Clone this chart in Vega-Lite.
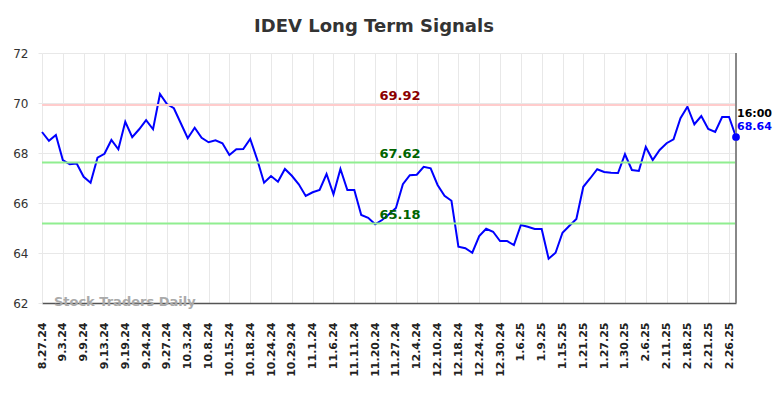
{
  "$schema": "https://vega.github.io/schema/vega-lite/v6.json",
  "width": 694,
  "height": 250,
  "autosize": "none",
  "padding": {"left": 42, "top": 53, "right": 48, "bottom": 95},
  "background": "white",
  "title": {"text": "IDEV Long Term Signals", "fontSize": 18, "font": "DejaVu Sans", "fontWeight": "bold", "color": "#333333", "anchor": "middle", "dx": -15, "offset": 11},
  "config": {"view": {"stroke": null}, "font": "DejaVu Sans"},
  "datasets": {
    "prices": [
      {"date": "8.27.24", "close": 68.84}, {"date": "8.28.24", "close": 68.49}, {"date": "8.30.24", "close": 68.72},
      {"date": "9.3.24", "close": 67.72}, {"date": "9.4.24", "close": 67.55}, {"date": "9.6.24", "close": 67.58},
      {"date": "9.9.24", "close": 67.05}, {"date": "9.10.24", "close": 66.81}, {"date": "9.12.24", "close": 67.81},
      {"date": "9.13.24", "close": 67.97}, {"date": "9.16.24", "close": 68.52}, {"date": "9.17.24", "close": 68.15},
      {"date": "9.19.24", "close": 69.25}, {"date": "9.20.24", "close": 68.63}, {"date": "9.23.24", "close": 68.95},
      {"date": "9.24.24", "close": 69.31}, {"date": "9.25.24", "close": 68.95}, {"date": "9.26.24", "close": 70.36},
      {"date": "9.27.24", "close": 69.96}, {"date": "9.30.24", "close": 69.79}, {"date": "10.1.24", "close": 69.19},
      {"date": "10.3.24", "close": 68.59}, {"date": "10.4.24", "close": 69.01}, {"date": "10.7.24", "close": 68.61},
      {"date": "10.8.24", "close": 68.43}, {"date": "10.10.24", "close": 68.51}, {"date": "10.11.24", "close": 68.39},
      {"date": "10.15.24", "close": 67.92}, {"date": "10.16.24", "close": 68.15}, {"date": "10.17.24", "close": 68.16},
      {"date": "10.18.24", "close": 68.56}, {"date": "10.21.24", "close": 67.75}, {"date": "10.23.24", "close": 66.81},
      {"date": "10.24.24", "close": 67.08}, {"date": "10.25.24", "close": 66.85}, {"date": "10.28.24", "close": 67.36},
      {"date": "10.29.24", "close": 67.09}, {"date": "10.30.24", "close": 66.75}, {"date": "10.31.24", "close": 66.28},
      {"date": "11.1.24", "close": 66.43}, {"date": "11.4.24", "close": 66.52}, {"date": "11.5.24", "close": 67.16},
      {"date": "11.6.24", "close": 66.35}, {"date": "11.7.24", "close": 67.36}, {"date": "11.8.24", "close": 66.52},
      {"date": "11.11.24", "close": 66.52}, {"date": "11.14.24", "close": 65.52}, {"date": "11.18.24", "close": 65.41},
      {"date": "11.20.24", "close": 65.15}, {"date": "11.22.24", "close": 65.32}, {"date": "11.26.24", "close": 65.55},
      {"date": "11.27.24", "close": 65.80}, {"date": "11.29.24", "close": 66.75}, {"date": "12.2.24", "close": 67.11},
      {"date": "12.4.24", "close": 67.13}, {"date": "12.5.24", "close": 67.45}, {"date": "12.9.24", "close": 67.39},
      {"date": "12.10.24", "close": 66.72}, {"date": "12.12.24", "close": 66.29}, {"date": "12.16.24", "close": 66.09},
      {"date": "12.18.24", "close": 64.25}, {"date": "12.19.24", "close": 64.19}, {"date": "12.23.24", "close": 64.01},
      {"date": "12.24.24", "close": 64.68}, {"date": "12.26.24", "close": 64.97}, {"date": "12.27.24", "close": 64.85},
      {"date": "12.30.24", "close": 64.48}, {"date": "1.2.25", "close": 64.48}, {"date": "1.3.25", "close": 64.32},
      {"date": "1.6.25", "close": 65.12}, {"date": "1.7.25", "close": 65.05}, {"date": "1.8.25", "close": 64.96},
      {"date": "1.9.25", "close": 64.96}, {"date": "1.13.25", "close": 63.77}, {"date": "1.14.25", "close": 64.01},
      {"date": "1.15.25", "close": 64.81}, {"date": "1.16.25", "close": 65.09}, {"date": "1.17.25", "close": 65.36},
      {"date": "1.21.25", "close": 66.65}, {"date": "1.23.25", "close": 66.99}, {"date": "1.24.25", "close": 67.35},
      {"date": "1.27.25", "close": 67.24}, {"date": "1.28.25", "close": 67.21}, {"date": "1.29.25", "close": 67.20},
      {"date": "1.30.25", "close": 67.95}, {"date": "2.3.25", "close": 67.32}, {"date": "2.5.25", "close": 67.28},
      {"date": "2.6.25", "close": 68.24}, {"date": "2.7.25", "close": 67.72}, {"date": "2.10.25", "close": 68.12},
      {"date": "2.11.25", "close": 68.39}, {"date": "2.13.25", "close": 68.55}, {"date": "2.14.25", "close": 69.39},
      {"date": "2.18.25", "close": 69.85}, {"date": "2.19.25", "close": 69.15}, {"date": "2.20.25", "close": 69.48},
      {"date": "2.21.25", "close": 68.96}, {"date": "2.24.25", "close": 68.84}, {"date": "2.25.25", "close": 69.44},
      {"date": "2.26.25", "close": 69.44}, {"date": "2.27.25", "close": 68.64}
    ]
  },
  "layer": [
    {
      "data": {"name": "prices"},
      "mark": {"type": "line", "color": "#0000ff", "strokeWidth": 2},
      "encoding": {
        "x": {"field": "date", "type": "ordinal", "sort": null,
          "scale": {"type": "point", "padding": 0},
          "axis": {"title": null, "labelAngle": -90, "labelFontSize": 11, "labelFontWeight": "bold", "labelColor": "#222222", "labelFont": "DejaVu Sans",
            "labelPadding": 19, "ticks": false, "domainColor": "#555555", "domainWidth": 1.5,
            "grid": true, "gridColor": "#e8e8e8", "gridWidth": 1,
            "values": ["8.27.24","9.3.24","9.9.24","9.13.24","9.19.24","9.24.24","9.27.24","10.3.24","10.8.24","10.15.24","10.18.24","10.24.24","10.29.24","11.1.24","11.6.24","11.11.24","11.20.24","11.27.24","12.4.24","12.10.24","12.18.24","12.24.24","12.30.24","1.6.25","1.9.25","1.15.25","1.21.25","1.27.25","1.30.25","2.6.25","2.11.25","2.18.25","2.21.25","2.26.25"]}},
        "y": {"field": "close", "type": "quantitative",
          "scale": {"domain": [62, 72], "nice": false, "zero": false},
          "axis": {"title": null, "values": [62, 64, 66, 68, 70, 72], "labelFontSize": 12, "labelColor": "#333333", "labelFont": "DejaVu Sans",
            "domain": false, "tickColor": "#e8e8e8", "tickSize": 4, "labelPadding": 10,
            "grid": true, "gridColor": "#e8e8e8", "gridWidth": 1}}
      }
    },
    {
      "data": {"values": [{"level": 69.92}]},
      "mark": {"type": "rule", "color": "#ffcccc", "strokeWidth": 2},
      "encoding": {"y": {"field": "level", "type": "quantitative"}}
    },
    {
      "data": {"values": [{"level": 67.62}, {"level": 65.18}]},
      "mark": {"type": "rule", "color": "#90ee90", "strokeWidth": 2},
      "encoding": {"y": {"field": "level", "type": "quantitative"}}
    },
    {
      "data": {"values": [{"level": 69.92}]},
      "mark": {"type": "text", "color": "#8b0000", "fontSize": 13, "fontWeight": "bold", "font": "DejaVu Sans", "align": "center", "baseline": "bottom", "dy": -2, "dx": 4},
      "encoding": {"x": {"datum": "11.27.24"}, "y": {"field": "level", "type": "quantitative"}, "text": {"field": "level", "type": "quantitative", "format": ".2f"}}
    },
    {
      "data": {"values": [{"level": 67.62}, {"level": 65.18}]},
      "mark": {"type": "text", "color": "#006400", "fontSize": 13, "fontWeight": "bold", "font": "DejaVu Sans", "align": "center", "baseline": "bottom", "dy": -2, "dx": 4},
      "encoding": {"x": {"datum": "11.27.24"}, "y": {"field": "level", "type": "quantitative"}, "text": {"field": "level", "type": "quantitative", "format": ".2f"}}
    },
    {
      "data": {"name": "prices"},
      "transform": [{"filter": "datum.date === '2.27.25'"}],
      "mark": {"type": "rule", "color": "#888888", "strokeWidth": 2},
      "encoding": {"x": {"field": "date", "type": "ordinal", "sort": null}}
    },
    {
      "data": {"name": "prices"},
      "transform": [{"filter": "datum.date === '2.27.25'"}],
      "mark": {"type": "point", "filled": true, "color": "#0000ff", "size": 60, "opacity": 1},
      "encoding": {"x": {"field": "date", "type": "ordinal", "sort": null}, "y": {"field": "close", "type": "quantitative"}}
    },
    {
      "data": {"name": "prices"},
      "transform": [{"filter": "datum.date === '2.27.25'"}],
      "mark": {"type": "text", "text": "16:00", "color": "#000000", "fontSize": 11, "fontWeight": "bold", "font": "DejaVu Sans", "align": "left", "baseline": "middle", "dx": 1, "dy": -23},
      "encoding": {"x": {"field": "date", "type": "ordinal", "sort": null}, "y": {"field": "close", "type": "quantitative"}}
    },
    {
      "data": {"name": "prices"},
      "transform": [{"filter": "datum.date === '2.27.25'"}],
      "mark": {"type": "text", "color": "#0000ff", "fontSize": 11, "fontWeight": "bold", "font": "DejaVu Sans", "align": "left", "baseline": "middle", "dx": 1, "dy": -10},
      "encoding": {"x": {"field": "date", "type": "ordinal", "sort": null}, "y": {"field": "close", "type": "quantitative"}, "text": {"field": "close", "type": "quantitative", "format": ".2f"}}
    },
    {
      "data": {"values": [{"label": "Stock Traders Daily", "level": 62}]},
      "mark": {"type": "text", "color": "#aaaaaa", "fontSize": 13, "fontWeight": "bold", "font": "DejaVu Sans", "align": "left", "baseline": "middle", "dx": -2, "dy": -1},
      "encoding": {"x": {"datum": "8.30.24"}, "y": {"field": "level", "type": "quantitative"}, "text": {"field": "label"}}
    }
  ]
}
